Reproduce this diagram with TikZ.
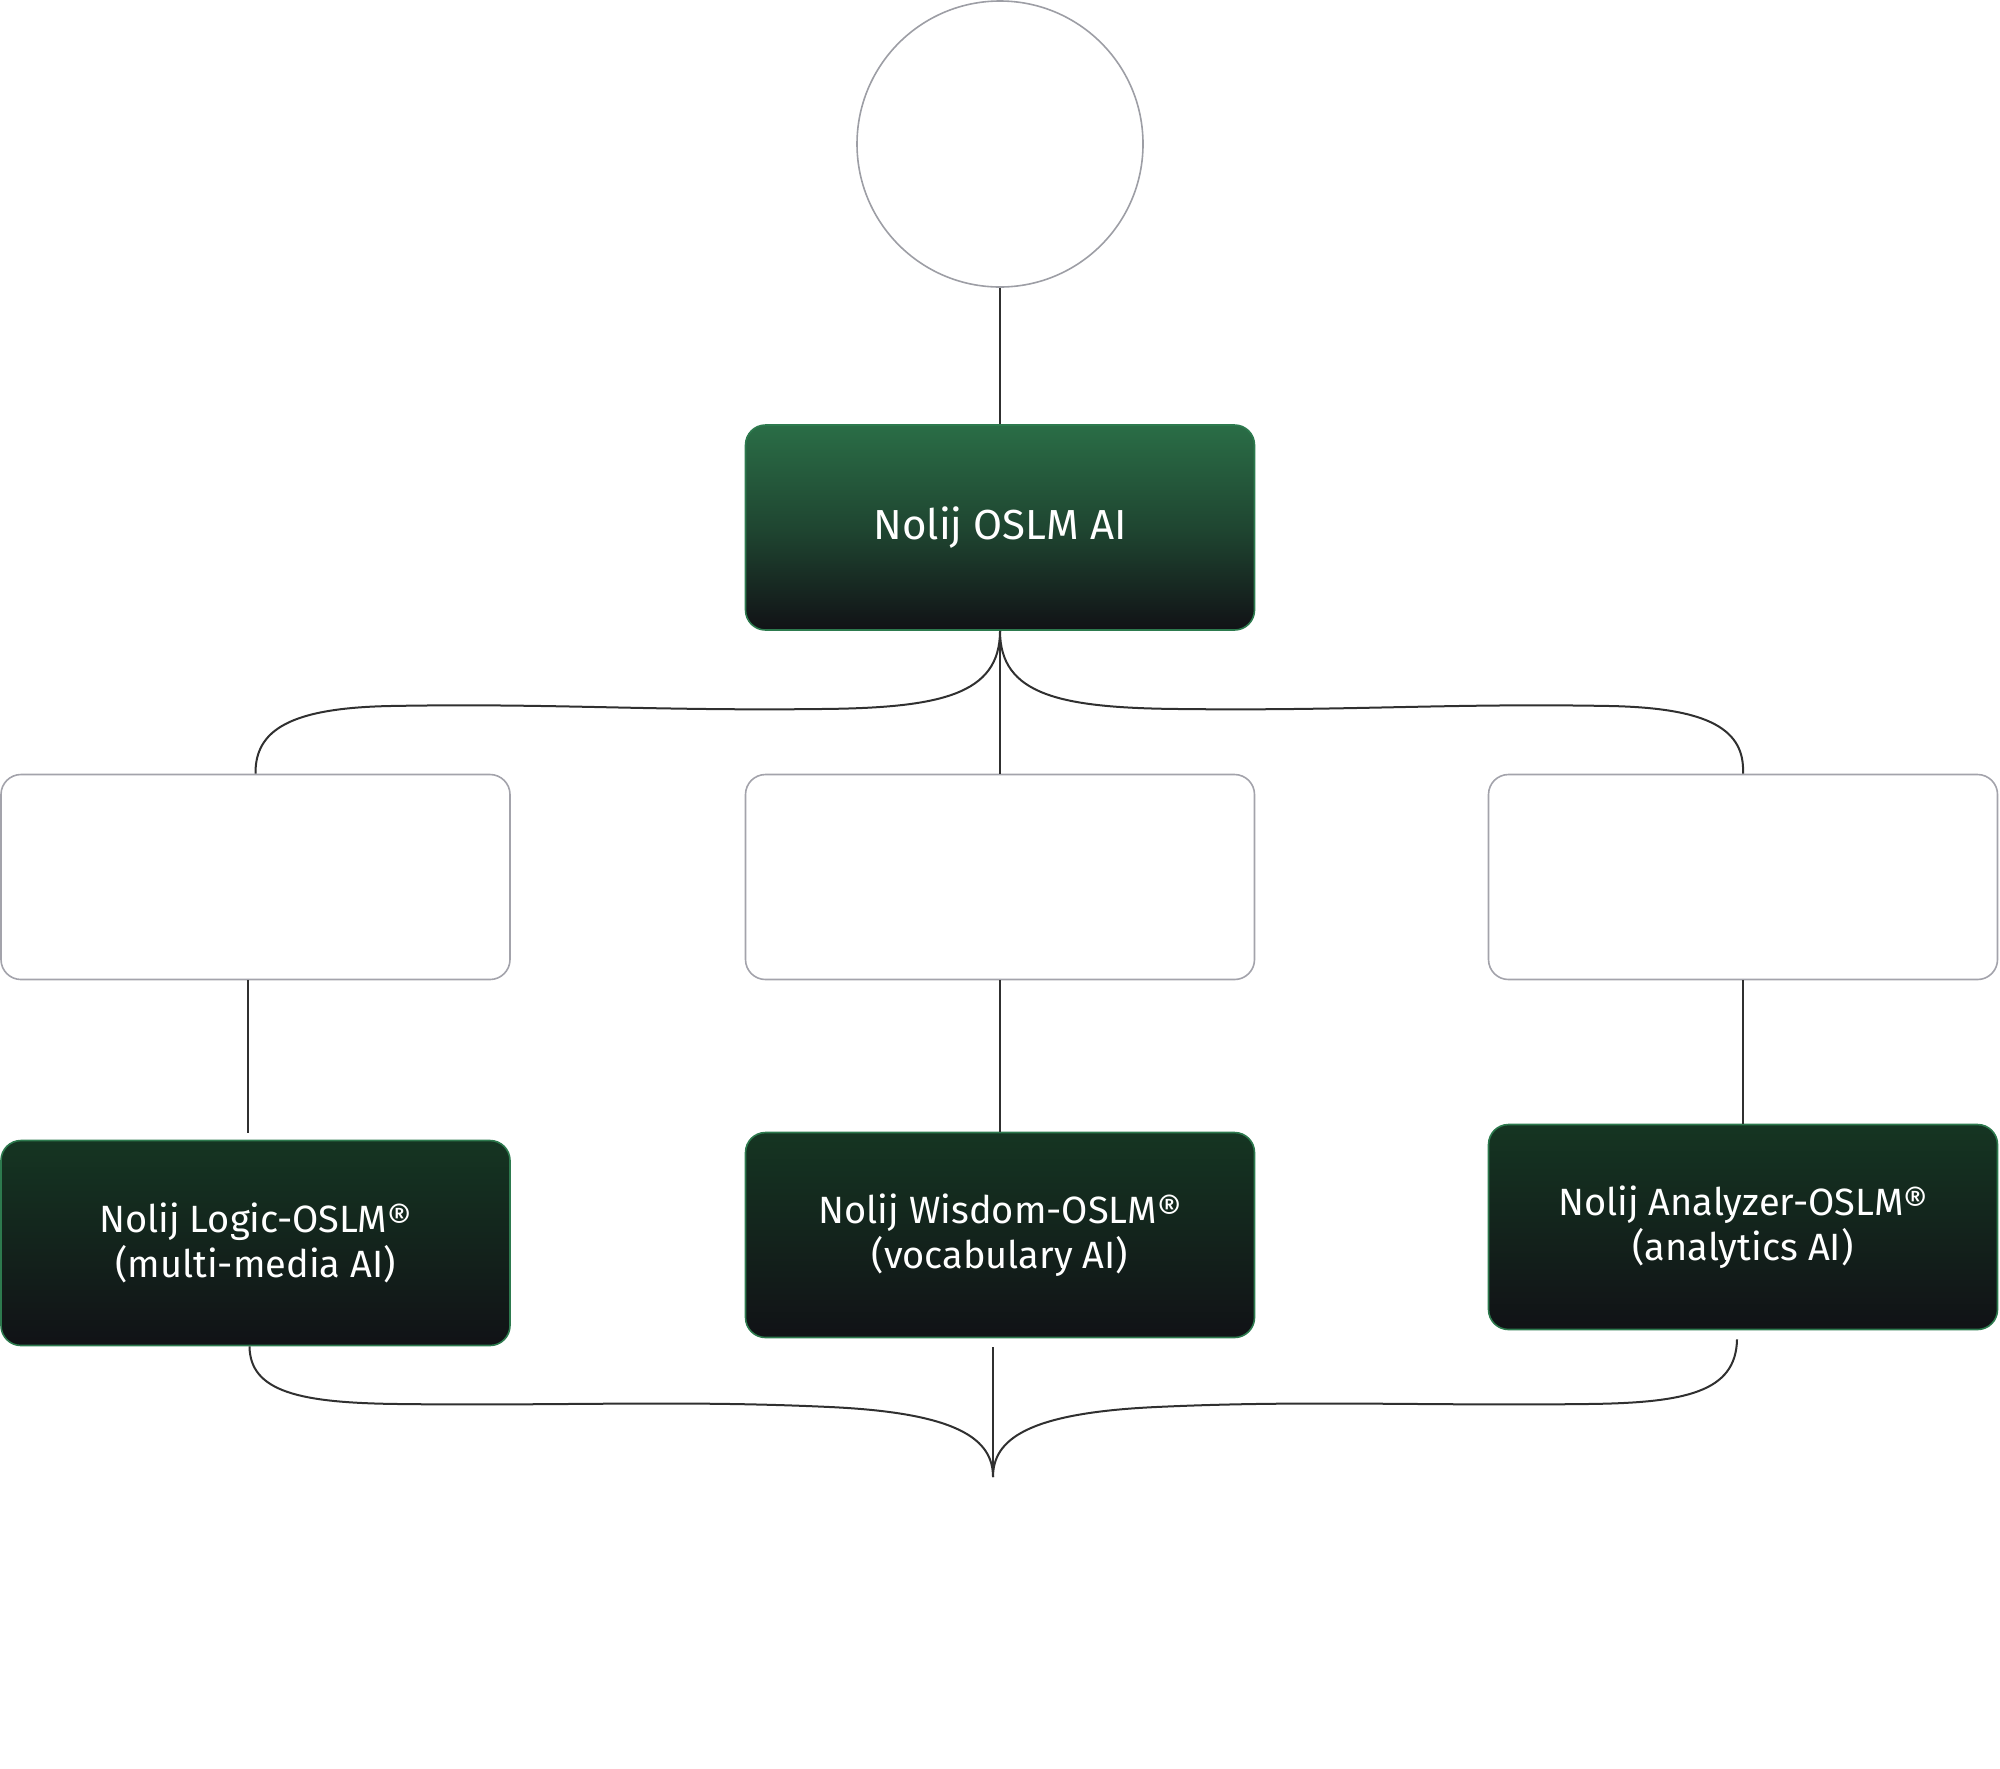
\documentclass[tikz,border=0pt]{standalone}
\usepackage{fontspec}
\setmainfont{Fira Sans}
\usepackage{tikz}
\usetikzlibrary{positioning,shapes}
\tikzset{
	-,
	node distance=3cm,
}
\definecolor{linkgray}{HTML}{303030}
\definecolor{ringgray}{HTML}{9D9EA5}
\definecolor{boxgray}{HTML}{A3A3AB}
\definecolor{modelline}{HTML}{2D7A4E}
\definecolor{modeltop}{HTML}{153522}
\definecolor{modelbottom}{HTML}{111216}
\definecolor{coretop}{HTML}{2A6D46}
\definecolor{coremid}{HTML}{1F4631}

\begin{document}
\begin{tikzpicture}[
            x=0.5pt,
            y=-0.5pt,
            link/.style={draw=linkgray, line width=1pt},
            hub/.style={circle, draw=ringgray, line width=0.8pt, minimum size=143pt, inner sep=0pt},
            blank/.style={rectangle, rounded corners=10pt, draw=boxgray, line width=0.8pt, fill=white, minimum width=254.5pt, minimum height=102.5pt},
            model/.style={rectangle, rounded corners=10pt, draw=modelline, line width=0.8pt, top color=modeltop, bottom color=modelbottom, minimum width=254.5pt, minimum height=102.5pt, text=white, align=center, font=\fontsize{19}{22.5}\selectfont},
            core/.style={model, top color=coretop, middle color=coremid, font=\fontsize{21}{25}\selectfont}
        ]
        \useasboundingbox (0,0) rectangle (2000,1768);
        \node[hub] (ring) at (1000,144) {};
        \node[core] (oslm) at (1000,527.5) {Nolij OSLM AI};
        \node[blank] (lslot) at (255.5,877) {};
        \node[blank] (mslot) at (1000,877) {};
        \node[blank] (rslot) at (1743,877) {};
        \node[model] (logic) at (255.5,1243) {Nolij Logic-OSLM®\\(multi-media AI)};
        \node[model] (wisdom) at (1000,1235) {Nolij Wisdom-OSLM®\\(vocabulary AI)};
        \node[model] (analyzer) at (1743,1227) {Nolij Analyzer-OSLM®\\(analytics AI)};
        \coordinate (merge) at (993,1477);

        \draw[link] (ring.south) -- (oslm.north);
        \draw[link] (oslm.south) -- (mslot.north);
        \draw[link] (oslm.south) .. controls (1000,695) and (940,708) .. (820,709)
            .. controls (650,711) and (550,703) .. (390,706)
            .. controls (290,708) and (255,730) .. (lslot.north);
        \draw[link] (oslm.south) .. controls (1000,695) and (1060,708) .. (1180,709)
            .. controls (1350,711) and (1450,703) .. (1610,706)
            .. controls (1710,708) and (1745,730) .. (rslot.north);
        \draw[link] ([xshift=-4pt]lslot.south) -- ([xshift=-4pt,yshift=3.5pt]logic.north);
        \draw[link] (mslot.south) -- (wisdom.north);
        \draw[link] (rslot.south) -- (analyzer.north);
        \draw[link] ([xshift=-3pt]logic.south) .. controls (250,1392) and (300,1403) .. (400,1404)
            .. controls (560,1406) and (680,1400) .. (830,1407)
            .. controls (960,1413) and (993,1440) .. (merge);
        \draw[link] ([xshift=-3pt,yshift=-4.5pt]analyzer.south) .. controls (1736,1392) and (1686,1403) .. (1586,1404)
            .. controls (1426,1406) and (1306,1400) .. (1156,1407)
            .. controls (1026,1413) and (993,1440) .. (merge);
        \draw[link] ([xshift=-3.5pt,yshift=-4.5pt]wisdom.south) -- (merge);
    \end{tikzpicture}
\end{document}
